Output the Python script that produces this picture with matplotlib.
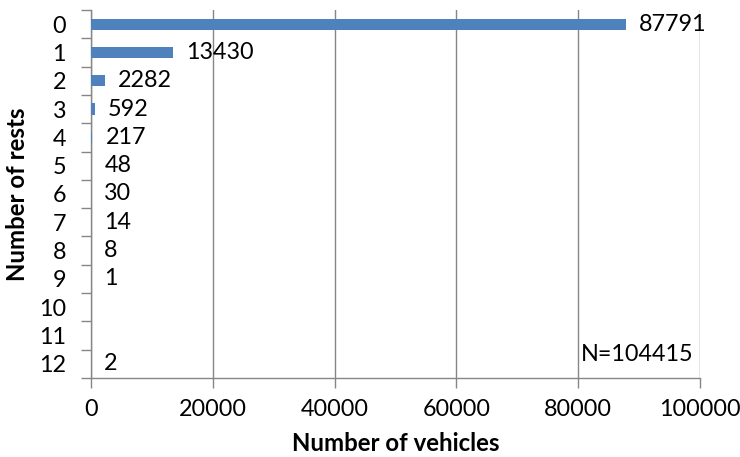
import matplotlib.pyplot as plt
import numpy as np

rests = ['0', '1', '2', '3', '4', '5', '6', '7', '8', '9', '10', '11', '12']
vehicles = [87791, 13430, 2282, 592, 217, 48, 30, 14, 8, 1, 0, 0, 2]
xticks = [0, 20000, 40000, 60000, 80000, 100000]
total_label = 'N=104415'

plt.rcParams['font.family'] = ['Lato', 'DejaVu Sans']
bar_color = '#4F81BD'
axis_gray = '#868686'
fs = 16.8

fig = plt.figure(figsize=(7.4, 4.57), dpi=100)
ax = fig.add_axes([0.123, 0.173, 0.823, 0.805])

pos = np.arange(len(rests))
ax.barh(pos, vehicles, height=0.4, color=bar_color, zorder=3)

# value labels, skip empty categories
for p, v in zip(pos, vehicles):
    if v > 0:
        ax.annotate(str(v), (v, p), xytext=(9.5, 0), textcoords='offset points',
                    va='center', ha='left', fontsize=fs, color='black')

ax.set_xlim(0, 100000)
ax.set_ylim(len(rests) - 0.5, -0.5)
ax.set_xticks(xticks)
ax.set_xticklabels([str(t) for t in xticks], fontsize=fs)

# Excel style: ticks between categories, labels in the middle
ax.set_yticks(np.arange(-0.5, len(rests), 1.0))
ax.set_yticklabels([])
ax.set_yticks(pos, minor=True)
ax.set_yticklabels(rests, minor=True, fontsize=fs)
ax.tick_params(axis='y', which='major', length=7, color=axis_gray, width=1)
ax.tick_params(axis='y', which='minor', length=0, pad=18)
ax.tick_params(axis='x', length=7, color=axis_gray, width=1, pad=8)

ax.grid(axis='x', color=axis_gray, linewidth=1, zorder=0)
for s in ['top', 'right']:
    ax.spines[s].set_visible(False)
for s in ['left', 'bottom']:
    ax.spines[s].set_color(axis_gray)
    ax.spines[s].set_linewidth(1)

ax.set_xlabel('Number of vehicles', fontsize=17.3, fontweight='bold')
ax.set_ylabel('Number of rests', fontsize=17.3, fontweight='bold')
ax.xaxis.set_label_coords(0.5, -0.148)
ax.yaxis.set_label_coords(-0.102, 0.5)

ax.text(0.99, 0.065, total_label, transform=ax.transAxes, ha='right', va='center',
        fontsize=fs)

fig.savefig('out.png', dpi=100)
